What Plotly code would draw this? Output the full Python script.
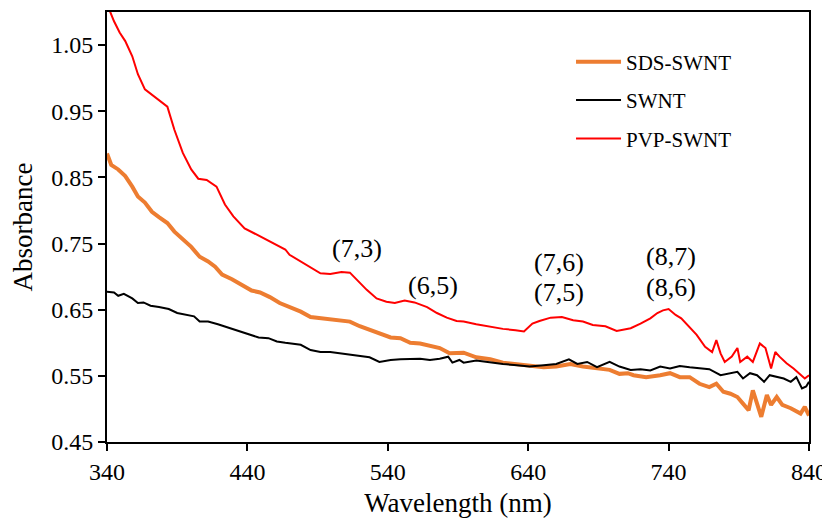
import plotly.graph_objects as go

# ---- data ----
wl_sds = [340, 343, 348, 353, 358, 362, 367, 372, 377, 383, 388, 394, 400, 406, 412, 417, 422, 429,
          436, 443, 449, 456, 463, 470, 478, 485, 492, 499, 506, 513, 520, 527, 534, 542, 549, 556,
          563, 570, 577, 584, 594, 603, 613, 622, 632, 641, 651, 660, 670, 679, 689, 698, 705, 711,
          715, 724, 734, 741, 748, 755, 762, 769, 774, 779, 784, 789, 793, 797, 800, 804, 806, 810,
          813, 817, 821, 827, 834, 837, 840]
abs_sds = [0.886, 0.869, 0.862, 0.852, 0.836, 0.821, 0.812, 0.798, 0.790, 0.781, 0.768, 0.757, 0.745,
           0.730, 0.723, 0.715, 0.703, 0.696, 0.687, 0.679, 0.676, 0.669, 0.660, 0.654, 0.647, 0.639,
           0.637, 0.635, 0.633, 0.632, 0.625, 0.620, 0.614, 0.608, 0.607, 0.600, 0.599, 0.595, 0.592,
           0.584, 0.585, 0.578, 0.575, 0.570, 0.568, 0.566, 0.563, 0.564, 0.568, 0.564, 0.561, 0.559,
           0.553, 0.554, 0.551, 0.548, 0.551, 0.554, 0.548, 0.548, 0.538, 0.533, 0.538, 0.526, 0.523,
           0.518, 0.508, 0.498, 0.528, 0.503, 0.488, 0.521, 0.506, 0.518, 0.506, 0.501, 0.493, 0.503,
           0.490]

wl_swnt = [340, 345, 348, 352, 358, 362, 366, 371, 377, 384, 390, 396, 402, 406, 412, 419, 426, 434,
           441, 448, 455, 461, 467, 470, 478, 485, 492, 499, 506, 513, 520, 527, 534, 542, 549, 556,
           563, 570, 577, 583, 586, 591, 594, 603, 613, 622, 632, 641, 651, 660, 669, 675, 682, 689,
           698, 705, 713, 720, 727, 734, 741, 748, 755, 762, 769, 777, 784, 789, 793, 798, 803, 808,
           812, 817, 822, 827, 831, 835, 838, 840]
abs_swnt = [0.677, 0.676, 0.671, 0.674, 0.667, 0.660, 0.661, 0.656, 0.654, 0.651, 0.645, 0.643, 0.640,
            0.632, 0.632, 0.628, 0.623, 0.618, 0.612, 0.608, 0.607, 0.602, 0.600, 0.599, 0.597, 0.589,
            0.586, 0.586, 0.584, 0.583, 0.581, 0.578, 0.571, 0.574, 0.575, 0.575, 0.576, 0.574, 0.576,
            0.579, 0.570, 0.574, 0.570, 0.573, 0.570, 0.568, 0.566, 0.564, 0.566, 0.568, 0.575, 0.568,
            0.571, 0.563, 0.571, 0.564, 0.559, 0.560, 0.558, 0.564, 0.561, 0.565, 0.563, 0.561, 0.560,
            0.551, 0.554, 0.556, 0.546, 0.554, 0.551, 0.541, 0.551, 0.548, 0.546, 0.541, 0.548, 0.531,
            0.534, 0.541]

wl_pvp = [340, 345, 349, 353, 358, 362, 367, 372, 377, 383, 388, 394, 400, 405, 411, 418, 424, 430,
          438, 445, 453, 460, 467, 470, 478, 485, 492, 499, 507, 513, 518, 525, 532, 539, 545, 552,
          559, 568, 575, 582, 589, 594, 603, 613, 622, 631, 637, 643, 648, 656, 664, 672, 679, 686,
          695, 703, 710, 713, 720, 727, 732, 736, 740, 745, 749, 755, 760, 766, 771, 774, 777, 780,
          785, 789, 791, 796, 800, 805, 809, 813, 816, 819, 824, 829, 835, 837, 840]
abs_pvp = [1.112, 1.086, 1.069, 1.056, 1.033, 1.006, 0.983, 0.975, 0.967, 0.957, 0.922, 0.887, 0.862,
           0.848, 0.846, 0.836, 0.809, 0.791, 0.773, 0.765, 0.756, 0.748, 0.741, 0.733, 0.723, 0.713,
           0.705, 0.704, 0.707, 0.706, 0.695, 0.680, 0.667, 0.662, 0.660, 0.664, 0.661, 0.654, 0.645,
           0.638, 0.633, 0.632, 0.628, 0.624, 0.621, 0.619, 0.617, 0.629, 0.633, 0.638, 0.639, 0.634,
           0.632, 0.627, 0.625, 0.618, 0.620, 0.622, 0.629, 0.637, 0.645, 0.649, 0.651, 0.642, 0.637,
           0.624, 0.612, 0.594, 0.586, 0.604, 0.584, 0.571, 0.579, 0.592, 0.571, 0.579, 0.571, 0.599,
           0.592, 0.561, 0.586, 0.579, 0.569, 0.561, 0.550, 0.546, 0.551]

peak_labels = ["(7,3)", "(6,5)", "(7,6)", "(7,5)", "(8,7)", "(8,6)"]
peak_x = [518, 572, 662, 662, 742, 742]
peak_y = [0.743, 0.687, 0.722, 0.676, 0.730, 0.684]

x_ticks = [340, 440, 540, 640, 740, 840]
y_ticks = [0.45, 0.55, 0.65, 0.75, 0.85, 0.95, 1.05]

FONT = "Liberation Serif"

fig = go.Figure()
fig.add_trace(go.Scatter(x=wl_sds, y=abs_sds, mode="lines", name="SDS-SWNT",
                         legendgroup="a", line=dict(color="#ED7D31", width=4)))
fig.add_trace(go.Scatter(x=wl_swnt, y=abs_swnt, mode="lines", name="SWNT",
                         legendgroup="b", line=dict(color="#000000", width=2)))
fig.add_trace(go.Scatter(x=wl_pvp, y=abs_pvp, mode="lines", name="PVP-SWNT",
                         legendgroup="c", line=dict(color="#FF0000", width=2)))

for t, x, y in zip(peak_labels, peak_x, peak_y):
    fig.add_annotation(x=x, y=y, text=t, showarrow=False,
                       font=dict(family=FONT, size=26, color="#000"))

axis_common = dict(showline=True, linecolor="#000", linewidth=2, mirror=True,
                   ticks="outside", tickcolor="#000", tickwidth=2, ticklen=7,
                   showgrid=False, zeroline=False,
                   tickfont=dict(family=FONT, size=24, color="#000"))

fig.update_xaxes(range=[340, 840], tickvals=x_ticks, ticktext=[str(v) for v in x_ticks],
                 title=dict(text="Wavelength (nm)", font=dict(family=FONT, size=27, color="#000"),
                            standoff=18), **axis_common)
fig.update_yaxes(range=[0.45, 1.10], tickvals=y_ticks, ticktext=[f"{v:.2f}" for v in y_ticks],
                 title=dict(text="Absorbance", font=dict(family=FONT, size=27, color="#000"),
                            standoff=18), **axis_common)

fig.update_layout(
    width=822, height=510,
    font=dict(family=FONT),
    margin=dict(l=99, r=21, t=4, b=76, autoexpand=False),
    plot_bgcolor="white", paper_bgcolor="white",
    legend=dict(x=0.661, y=0.931, xanchor="left", yanchor="top",
                font=dict(family=FONT, size=21, color="#000"),
                bgcolor="rgba(255,255,255,0)", tracegroupgap=8, itemwidth=45),
    showlegend=True,
)

fig.write_html("out.html")
